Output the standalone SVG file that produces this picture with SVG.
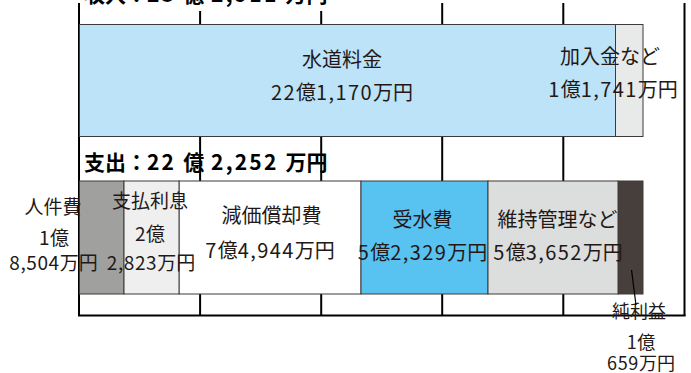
<svg xmlns="http://www.w3.org/2000/svg" width="691" height="373" viewBox="0 0 691 373">
<style>
.ax{stroke:#000;stroke-width:2;fill:none}
.gr{stroke:#000;stroke-width:2;fill:none}
.bar{stroke:#3e3a39;stroke-width:1}
.lb{font-family:"Noto Sans CJK JP","Liberation Sans",sans-serif;font-size:20px;fill:#231815;text-anchor:middle}
.sm{font-size:19px}
.xs{font-size:18px}
.n{letter-spacing:1.4px}
.ns{letter-spacing:0.6px}
.tt{font-family:"Noto Sans CJK JP","Liberation Sans",sans-serif;font-size:21px;font-weight:bold;fill:#000}
.tn{letter-spacing:2.2px}
</style>
<rect width="691" height="373" fill="#fff"/>
<g id="axes">
<line class="gr" x1="200.1" y1="11" x2="200.1" y2="315"/>
<line class="gr" x1="321.2" y1="11" x2="321.2" y2="315"/>
<line class="gr" x1="442.2" y1="3" x2="442.2" y2="315"/>
<line class="gr" x1="563.3" y1="3" x2="563.3" y2="315"/>
<line class="ax" x1="684.5" y1="3" x2="684.5" y2="316"/>
<line class="ax" x1="79" y1="3" x2="79" y2="316"/>
<line class="ax" x1="78" y1="315.5" x2="685.5" y2="315.5"/>
</g>
<g id="title-income">
<text class="tt" x="84" y="1.5">収入：<tspan class="tn">23 </tspan>億<tspan class="tn"> 2,911 </tspan>万円</text>
</g>
<g id="title-expense">
<text class="tt" x="84" y="170">支出：<tspan class="tn">22 </tspan>億<tspan class="tn"> 2,252 </tspan>万円</text>
</g>
<g id="water-charge">
<rect class="bar" x="79.5" y="24.5" width="536" height="112" fill="#bde3f8"/>
<text class="lb" x="342" y="67">水道料金</text>
<text class="lb" x="342" y="100"><tspan class="n">22</tspan>億<tspan class="n">1,170</tspan>万円</text>
</g>
<g id="contribution">
<rect class="bar" x="615.5" y="24.5" width="27.5" height="112" fill="#e8e9e9"/>
<text class="lb" x="610" y="64">加入金など</text>
<text class="lb" x="613" y="97"><tspan class="n">1</tspan>億<tspan class="n">1,741</tspan>万円</text>
</g>
<g id="personnel">
<rect class="bar" x="79.5" y="181" width="44.5" height="113" fill="#a0a09f"/>
<text class="lb sm" x="53" y="214">人件費</text>
<text class="lb sm" x="54" y="245"><tspan class="ns">1</tspan>億</text>
<text class="lb sm" x="53.5" y="270"><tspan class="ns">8,504</tspan>万円</text>
</g>
<g id="depreciation">
<rect class="bar" x="179" y="181" width="182" height="113" fill="#fff"/>
<text class="lb" x="271.5" y="223">減価償却費</text>
<text class="lb" x="270" y="258"><tspan class="n">7</tspan>億<tspan class="n">4,944</tspan>万円</text>
</g>
<g id="interest">
<rect class="bar" x="124" y="181" width="55" height="113" fill="#efefef"/>
<text class="lb sm" x="150" y="208">支払利息</text>
<text class="lb sm" x="150" y="241"><tspan class="ns">2</tspan>億</text>
<text class="lb sm" x="151" y="270"><tspan class="ns">2,823</tspan>万円</text>
</g>
<g id="purchased-water">
<rect class="bar" x="361" y="181" width="127" height="113" fill="#58c3f1"/>
<text class="lb" x="422.5" y="227">受水費</text>
<text class="lb" x="422.5" y="260"><tspan class="n">5</tspan>億<tspan class="n">2,329</tspan>万円</text>
</g>
<g id="net-profit">
<rect class="bar" x="618" y="181" width="25" height="113" fill="#463f3c"/>
<text class="lb xs" x="639" y="318">純利益</text>
<text class="lb xs" x="641" y="349"><tspan class="ns">1</tspan>億</text>
<text class="lb xs" x="641" y="370"><tspan class="ns">659</tspan>万円</text>
</g>
<g id="maintenance">
<rect class="bar" x="488" y="181" width="130" height="113" fill="#dcdddd"/>
<text class="lb" x="557.5" y="227">維持管理など</text>
<text class="lb" x="558" y="260"><tspan class="n">5</tspan>億<tspan class="n">3,652</tspan>万円</text>
</g>
<g id="connectors">
<line x1="631.5" y1="270" x2="636" y2="305" stroke="#000" stroke-width="1.2"/>
</g>
</svg>
